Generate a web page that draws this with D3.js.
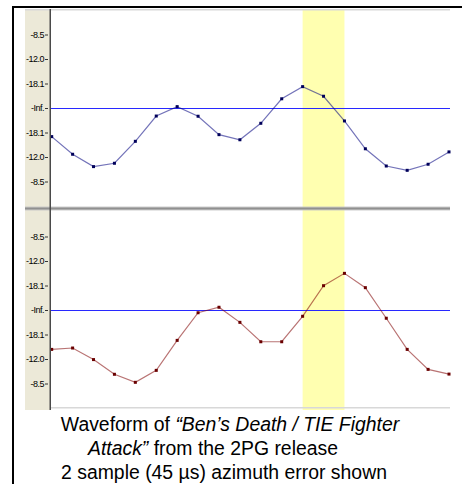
<!DOCTYPE html>
<html>
<head>
<meta charset="utf-8">
<script src="https://cdn.jsdelivr.net/npm/d3@7"></script>
<style>
  html, body { margin: 0; padding: 0; background: #fff; }
  svg { display: block; }
</style>
</head>
<body>
<svg id="vis" width="462" height="484"></svg>
<script>
// Sample data (amplitude, linear), one value per sample
var sampleIndex = d3.range(20);
var topSamples = [-0.146, -0.236, -0.299, -0.282, -0.170, -0.041, 0.007, -0.042, -0.136, -0.162,
                  -0.078, 0.047, 0.109, 0.060, -0.066, -0.208, -0.296, -0.318, -0.287, -0.224];
var bottomSamples = [-0.201, -0.194, -0.253, -0.328, -0.369, -0.308, -0.155, -0.014, 0.014, -0.063,
                     -0.162, -0.162, -0.032, 0.124, 0.187, 0.114, -0.042, -0.201, -0.303, -0.327];
var tickValues = [0.375, 0.25, 0.125, 0, -0.125, -0.25, -0.375];
var tickLabels = ['-8.5', '-12.0', '-18.1', '-Inf.', '-18.1', '-12.0', '-8.5'];
var selection = [12, 14];                                             // selected samples
var captionLines = [
  [{t: 'Waveform of ', i: false}, {t: '\u201cBen\u2019s Death / TIE Fighter', i: true}],
  [{t: 'Attack\u201d', i: true}, {t: ' from the 2PG release', i: false}],
  [{t: '2 sample (45 \u00b5s) azimuth error shown', i: false}]
];
var captionCenters = [230, 213, 224];

var vis = d3.select('#vis');

// Frame
vis.append('rect').attr('x', 12).attr('y', 6).attr('width', 450).attr('height', 2).attr('fill', '#000');
vis.append('rect').attr('x', 12).attr('y', 6).attr('width', 2).attr('height', 478).attr('fill', '#000');

// Geometry
var left = 25, axisX = 50, right = 450;
var tracks = [
  {top: 10, bottom: 206, data: topSamples, line: '#000080', dot: '#00005a'},
  {top: 212, bottom: 408, data: bottomSamples, line: '#800000', dot: '#6a0000'}
];

var x = d3.scaleLinear().domain([0, 19]).range([51.7, 449]);

// Ruler panel
vis.append('rect').attr('x', left).attr('y', 9).attr('width', axisX - left).attr('height', 401)
  .attr('fill', '#ece9d8');

// Selection band
vis.append('rect')
  .attr('x', x(selection[0])).attr('y', 9)
  .attr('width', x(selection[1]) - x(selection[0])).attr('height', 401)
  .attr('fill', '#ffffb0');

// Top and bottom light lines
vis.append('rect').attr('x', left).attr('y', 9).attr('width', right - left).attr('height', 1.5)
  .attr('fill', '#d8d8d8');
vis.append('rect').attr('x', axisX).attr('y', 407).attr('width', right - axisX).attr('height', 1.5)
  .attr('fill', '#d8d8d8');

// Separator between tracks
vis.append('rect').attr('x', left).attr('y', 206.5).attr('width', right - left).attr('height', 4)
  .attr('fill', '#c4c4c4').attr('fill-opacity', 0.85);
vis.append('rect').attr('x', left).attr('y', 207.5).attr('width', right - left).attr('height', 2)
  .attr('fill', '#8a8a8a').attr('fill-opacity', 0.9);

tracks.forEach(function(t) {
  var y = d3.scaleLinear().domain([-0.5, 0.5]).range([t.bottom, t.top]);
  var g = vis.append('g');

  // Axis labels
  var axis = d3.axisLeft(y).tickValues(tickValues).tickSize(3).tickPadding(1)
    .tickFormat(function(d, i) { return tickLabels[i]; });
  var ax = g.append('g').attr('transform', 'translate(' + (axisX - 2) + ',0)').call(axis);
  ax.select('.domain').remove();
  ax.selectAll('.tick line').attr('stroke', '#333');
  ax.selectAll('.tick text')
    .attr('fill', '#000')
    .style('font-family', '"Liberation Sans", Arial, sans-serif')
    .style('font-size', '9px')
    .attr('letter-spacing', '-0.5px');

  // Zero line
  g.append('rect')
    .attr('x', axisX).attr('width', right - axisX)
    .attr('y', Math.round(y(0))).attr('height', 1)
    .attr('fill', '#2828ff');

  // Waveform line
  var wave = d3.line()
    .x(function(d) { return x(d); })
    .y(function(d) { return y(t.data[d]); });
  g.append('path').datum(sampleIndex)
    .attr('d', wave)
    .attr('fill', 'none')
    .attr('stroke', t.line).attr('stroke-opacity', 0.55).attr('stroke-width', 1.2);

  // Sample dots
  g.selectAll('rect.dot').data(sampleIndex).enter().append('rect')
    .attr('class', 'dot')
    .attr('x', function(d) { return x(d) - 1.5; })
    .attr('y', function(d) { return y(t.data[d]) - 1.5; })
    .attr('width', 3).attr('height', 3)
    .attr('fill', t.dot);
});

// Axis line
vis.append('rect').attr('x', axisX - 0.5).attr('y', 9).attr('width', 1.5).attr('height', 401)
  .attr('fill', '#4a4a4a');

// Caption
var caption = vis.append('text')
  .attr('text-anchor', 'middle')
  .style('font-family', 'Arial, "Liberation Sans", sans-serif')
  .style('font-size', '19.4px')
  .attr('fill', '#000');
captionLines.forEach(function(parts, i) {
  var row = caption.append('tspan').attr('x', captionCenters[i]).attr('y', 431 + i * 24);
  parts.forEach(function(p) {
    row.append('tspan').text(p.t).style('font-style', p.i ? 'italic' : 'normal');
  });
});
</script>
</body>
</html>
